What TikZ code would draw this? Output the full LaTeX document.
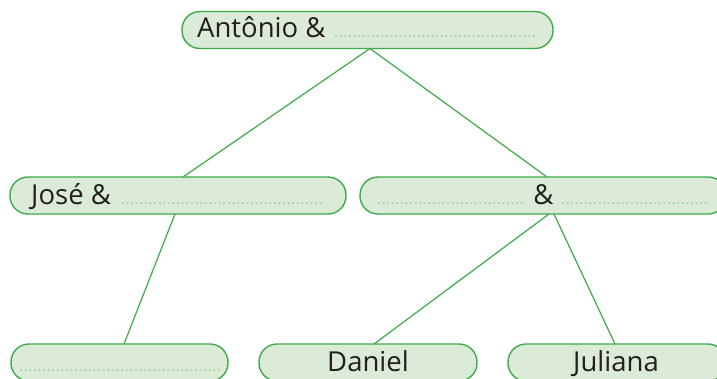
\documentclass[tikz,border=0pt]{standalone}
\usepackage{fontspec}
\setmainfont{Open Sans}
\usetikzlibrary{calc}
\definecolor{boxfill}{HTML}{DCEBD8}
\definecolor{boxline}{HTML}{3DAA4B}
\definecolor{dotcol}{HTML}{A3D39C}
\definecolor{txt}{HTML}{231F20}
\tikzset{
  pill/.style={draw=boxline, fill=boxfill, line width=1.4pt, rounded corners=18pt,
    minimum height=37pt, inner sep=0pt, outer sep=0pt},
  lbl/.style={font=\fontsize{27.5}{30}\selectfont, text=txt, inner sep=0pt, anchor=base},
  lblw/.style={lbl, anchor=base west},
  dots/.style={dotcol, line width=2.4pt, line cap=round, dash pattern=on 0pt off 4.6pt},
  conn/.style={boxline, line width=1.2pt}
}
\begin{document}
\begin{tikzpicture}[x=1pt,y=-1pt]
\clip (0,0) rectangle (717,378);
\fill[white] (0,0) rectangle (717,378);
% boxes
\node[pill, minimum width=371pt] (top) at (367.5,30) {};
\node[pill, minimum width=336pt] (ml) at (178,195.5) {};
\node[pill, minimum width=366pt] (mr) at (543,195.5) {};
\node[pill, minimum width=217pt] (bl) at (119.5,362.5) {};
\node[pill, minimum width=218pt] (bd) at (368,362.5) {};
\node[pill, minimum width=218pt] (bj) at (617,362.5) {};
% texts
\node[lblw] (t1) at (197,37) {Antônio \&};
\draw[dots] (336,36) -- (537,36);
\node[lblw] (t2) at (31,204) {José \&};
\draw[dots] (123,203) -- (323,203);
\draw[dots] (379,203) -- (525,203);
\node[lbl] (t3) at (543.5,204) {\&};
\draw[dots] (563,203) -- (708,203);
\draw[dots] (21,370) -- (221,370);
\node[lbl] (t4) at (368,371) {Daniel};
\node[lbl] (t5) at (616,371) {Juliana};
% connectors
\draw[conn] ($(top.south)+(2.5,0)$) -- ($(ml.north)+(5,0)$);
\draw[conn] ($(top.south)+(2.5,0)$) -- ($(mr.north)+(4,0)$);
\draw[conn] ($(ml.south)+(-3,0)$) -- ($(bl.north)+(4.5,0)$);
\draw[conn] ($(mr.south)+(6,0)$) -- ($(bd.north)+(6,0)$);
\draw[conn] ($(mr.south)+(11,0)$) -- ($(bj.north)+(-2,0)$);
\end{tikzpicture}
\end{document}
